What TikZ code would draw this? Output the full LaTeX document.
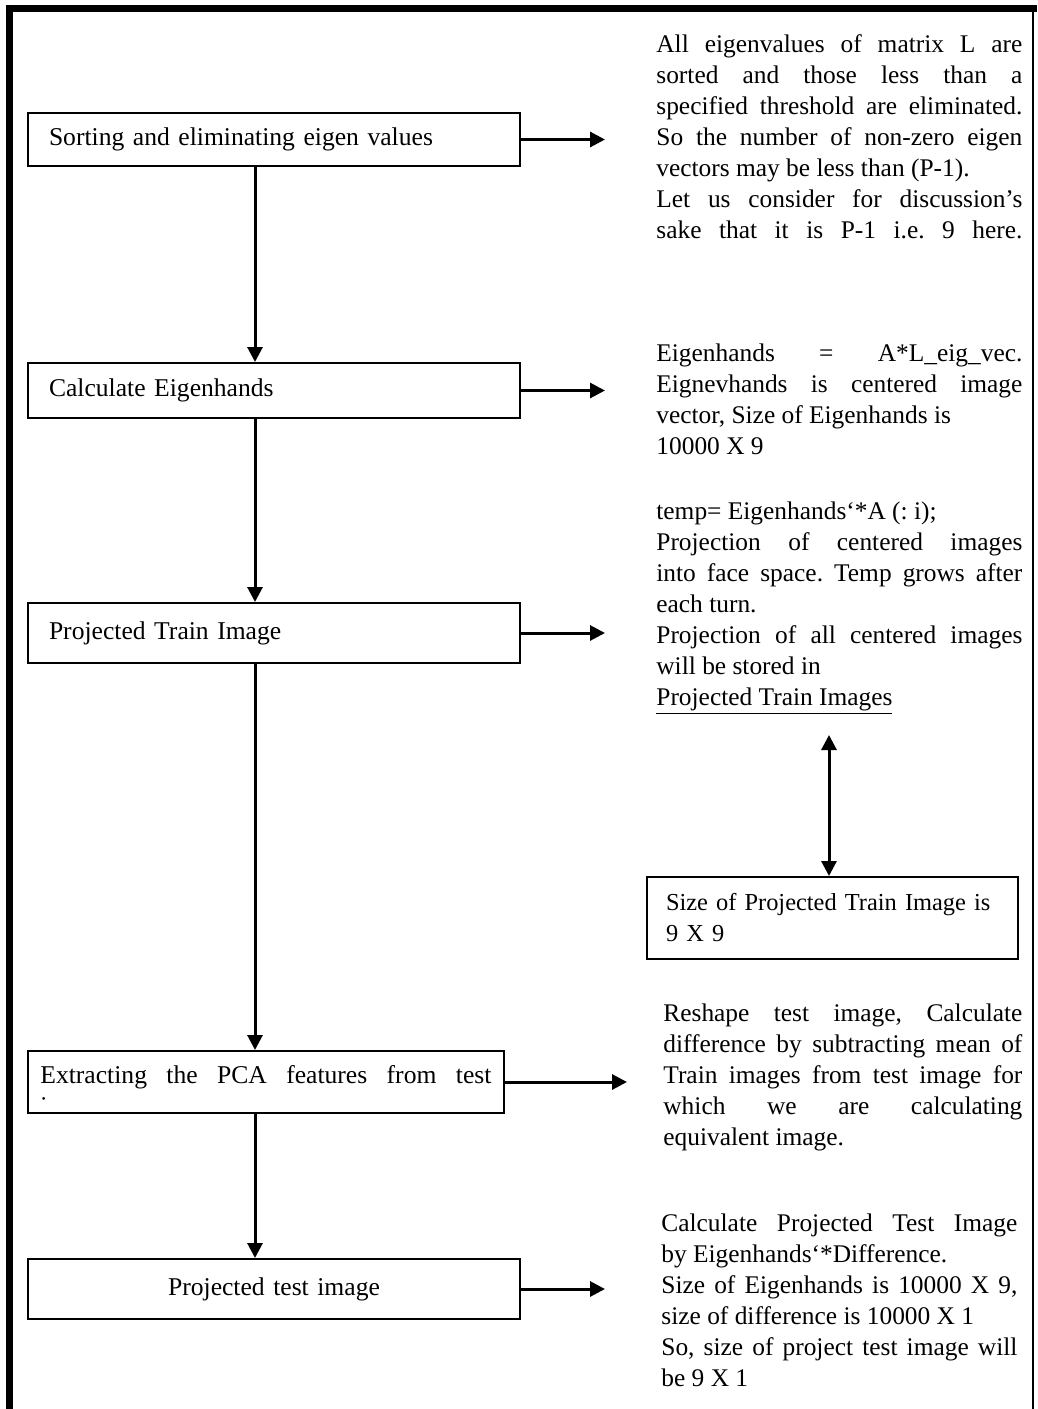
\documentclass[tikz,border=0pt]{standalone}
\usepackage{fontspec}
\setmainfont{Liberation Serif}
\usetikzlibrary{arrows.meta}
\frenchspacing

\tikzset{
  box/.style={draw, line width=1pt, anchor=north west, inner xsep=10.5pt,
    text width=225pt, align=left, font=\fontsize{12.8}{15.5}\selectfont},
  note/.style={anchor=north west, inner sep=0pt, align=justify,
    font=\fontsize{12.7}{15.5}\selectfont},
  arr/.style={line width=1.5pt, -{Triangle[length=7.5pt,width=7.5pt]}},
  dblarr/.style={line width=1.5pt,
    {Triangle[length=7.5pt,width=7.5pt]}-{Triangle[length=7.5pt,width=7.5pt]}},
}

\begin{document}
\begin{tikzpicture}[x=0.5pt, y=-0.5pt]
\useasboundingbox (0,0) rectangle (1038,1409);

% page frame
\fill (6,5) rectangle (1037,12);
\fill (6,5) rectangle (13,1409);
\draw[line width=1pt] (1033,12) -- (1033,1409);

% helper coordinates
\coordinate (spine) at (255,0);
\coordinate (tip) at (605,0);
\coordinate (tipx) at (627,0);

% steps on the left
\node[box, minimum height=26.5pt] (sort) at (27,112) {Sorting and eliminating eigen values};
\node[box, minimum height=27.5pt] (eig) at (27,362) {Calculate Eigenhands};
\node[box, minimum height=30pt] (train) at (27,602) {Projected Train Image};
\node[box, text width={}, minimum width=238pt, minimum height=31pt] (extract) at (27,1050) {};
\begin{scope}
  \clip (27,1050) rectangle (503,1100);
  \node[note, text width=225.5pt, font=\fontsize{12.8}{15.5}\selectfont] (extracttext) at (40,1061)
    {\strut Extracting the PCA features from test\linebreak image};
\end{scope}
\node[box, align=center, minimum height=30pt] (test) at (27,1258) {Projected test image};

% flow down the left side
\draw[arr] (sort.south -| spine) -- (eig.north -| spine);
\draw[arr] (eig.south -| spine) -- (train.north -| spine);
\draw[arr] (train.south -| spine) -- (extract.north -| spine);
\draw[arr] (extract.south -| spine) -- (test.north -| spine);

% arrows to the notes
\draw[arr] (sort.east) -- (sort.east -| tip);
\draw[arr] (eig.east) -- (eig.east -| tip);
\draw[arr] (train.east) -- (train.east -| tip);
\draw[arr] (extract.east) -- (extract.east -| tipx);
\draw[arr] (test.east) -- (test.east -| tip);

% notes on the right
\node[note, text width=183pt] (sortnote) at (656,30) {\strut All eigenvalues of matrix L are\linebreak
  sorted and those less than a\linebreak
  specified threshold are eliminated.\linebreak
  So the number of non-zero eigen\linebreak
  vectors may be less than (P-1).\\
  Let us consider for discussion’s\linebreak
  sake that it is P-1 i.e. 9 here.\linebreak};

\node[note, text width=183pt] (eignote) at (656,339.5) {\strut Eigenhands = A*L\_eig\_vec.\linebreak
  Eignevhands is centered image\linebreak
  vector, Size of Eigenhands is\\
  10000 X 9};

\node[note, text width=183pt] (trainnote) at (656,497.5) {\strut temp= Eigenhands‘*A (: i);\\
  Projection of centered images\linebreak
  into face space. Temp grows after\linebreak
  each turn.\\
  Projection of all centered images\linebreak
  will be stored in\\
  \underline{Projected Train Images}};

\node[box, inner xsep=9.5pt, text width=166.5pt, minimum height=41pt,
  font=\fontsize{12.2}{15.5}\selectfont] (trainsize) at (646,876)
  {Size of Projected Train Image is\\ 9 X 9};
\coordinate (trainlink) at (829,735);
\draw[dblarr] (trainlink) -- (trainlink |- trainsize.north);

\node[note, text width=179.5pt] (extractnote) at (663,999.5) {\strut Reshape test image, Calculate\linebreak
  difference by subtracting mean of\linebreak
  Train images from test image for\linebreak
  which we are calculating\linebreak
  equivalent image.};

\node[note, text width=178pt] (testnote) at (661,1209.5) {\strut Calculate Projected Test Image\linebreak
  by Eigenhands‘*Difference.\\
  Size of Eigenhands is 10000 X 9,\linebreak
  size of difference is 10000 X 1\\
  So, size of project test image will\linebreak
  be 9 X 1};
\end{tikzpicture}
\end{document}
